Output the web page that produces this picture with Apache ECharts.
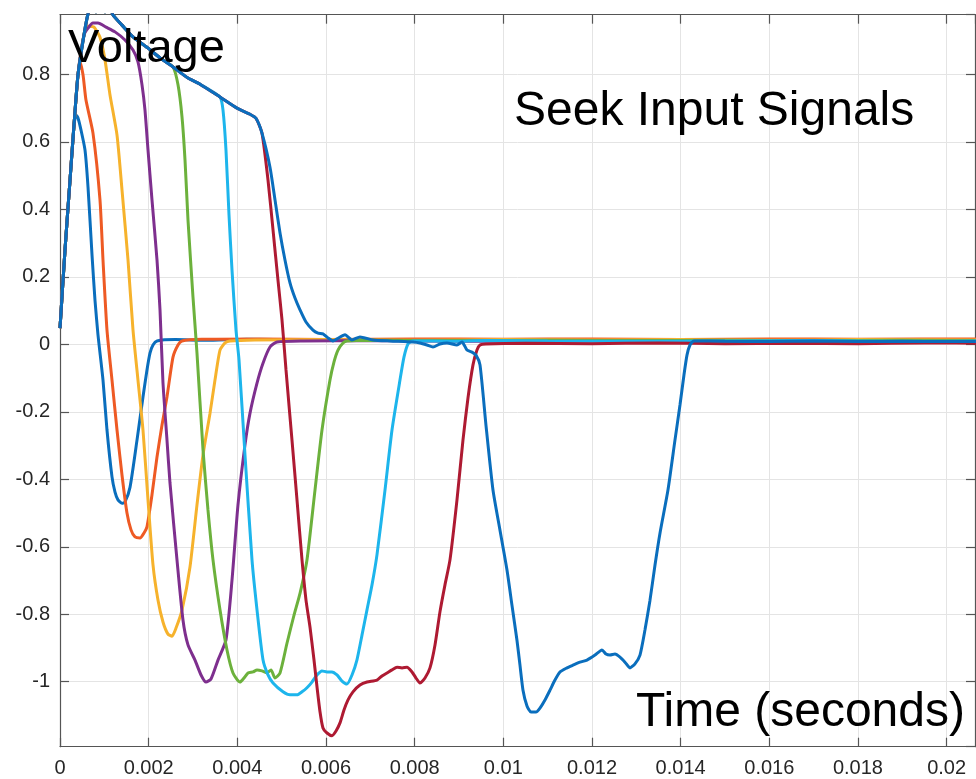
<!DOCTYPE html>
<html>
<head>
<meta charset="utf-8">
<title>Seek Input Signals</title>
<script src="https://cdn.jsdelivr.net/npm/echarts@6/dist/echarts.min.js"></script>
<style>
  html, body { margin: 0; padding: 0; background: #ffffff; }
  #chart { width: 976px; height: 779px; }
</style>
</head>
<body>
<div id="chart"></div>
<script>
// Times are in milliseconds, voltages in volts.

// Common rising edge shared by every seek pulse
const riseMs = [0, 0.113, 0.226, 0.316, 0.406, 0.541, 0.632];
const riseV  = [0.048, 0.280, 0.487, 0.650, 0.799, 0.917, 0.979];

// Saturated plateau shared by the longer seeks (split where each one breaks away)
const plateauAMs = [0.722, 0.812, 0.902, 1.015, 1.105, 1.196, 1.399, 1.647, 1.985, 2.256, 2.549];
const plateauAV  = [1.003, 0.985, 1.009, 0.985, 1.006, 0.976, 0.946, 0.911, 0.878, 0.849, 0.822];
const plateauBMs = [2.887, 3.158, 3.609];
const plateauBV  = [0.789, 0.771, 0.733];
const plateauCMs = [3.993, 4.286, 4.421, 4.556];
const plateauCV  = [0.700, 0.682, 0.670, 0.626];

// Seek 1
const seek1Ms = [0.361, 0.406, 0.474, 0.564, 0.632, 0.722, 0.789, 0.857, 0.970, 1.060, 1.173, 1.241, 1.308, 1.399, 1.466, 1.579, 1.737, 1.872, 1.962, 2.030, 2.098, 2.188,
                 2.6, 3.3, 4.2, 5.5, 7, 9, 11, 13, 15, 17, 19, 21];
const seek1V  = [0.680, 0.671, 0.635, 0.576, 0.466, 0.265, 0.131, 0.028, -0.106, -0.254, -0.393, -0.438, -0.461, -0.471, -0.467, -0.424, -0.284, -0.156, -0.076, -0.026, -0.002, 0.010,
                 0.014, 0.012, 0.015, 0.013, 0.014, 0.012, 0.014, 0.013, 0.014, 0.012, 0.014, 0.013];

// Seek 2
const seek2Ms = [0.451, 0.519, 0.586, 0.744, 0.902, 0.970, 1.060, 1.173, 1.286, 1.399, 1.511, 1.602, 1.692, 1.805, 1.895, 1.962, 2.075, 2.188, 2.301, 2.413, 2.549, 2.662, 2.752,
                 3.2, 4.5, 6, 8, 10, 12, 14, 16, 18, 21];
const seek2V  = [0.837, 0.799, 0.724, 0.626, 0.428, 0.250, 0.042, -0.106, -0.254, -0.388, -0.500, -0.550, -0.571, -0.574, -0.559, -0.541, -0.446, -0.334, -0.239, -0.156, -0.038, -0.002, 0.010,
                 0.015, 0.016, 0.014, 0.016, 0.015, 0.016, 0.014, 0.016, 0.015, 0.016];

// Seek 3
const seek3Ms = [0.632, 0.767, 0.902, 1.015, 1.128, 1.286, 1.399, 1.534, 1.647, 1.759, 1.872, 1.985, 2.098, 2.210, 2.323, 2.436, 2.526, 2.617, 2.752, 2.932, 3.090, 3.226, 3.384, 3.496, 3.609, 3.722, 3.835,
                 4.4, 6, 8, 10, 12, 14, 16, 18, 21];
const seek3V  = [0.943, 0.940, 0.910, 0.843, 0.739, 0.620, 0.457, 0.250, 0.042, -0.106, -0.254, -0.461, -0.654, -0.758, -0.823, -0.859, -0.865, -0.841, -0.788, -0.660, -0.476, -0.328, -0.204, -0.106, -0.017, 0.004, 0.010,
                 0.013, 0.014, 0.012, 0.014, 0.013, 0.014, 0.012, 0.014, 0.013];

// Seek 4
const seek4Ms = [0.632, 0.744, 0.857, 1.038, 1.241, 1.466, 1.647, 1.759, 1.850, 1.917, 1.985, 2.075, 2.188, 2.256, 2.323, 2.413, 2.481, 2.639, 2.774, 2.887, 3.045, 3.181, 3.293, 3.406, 3.564, 3.744, 3.880, 4.015, 4.173, 4.286, 4.444, 4.579, 4.737, 4.895,
                 5.5, 7, 9, 11, 13, 15, 17, 19, 21];
const seek4V  = [0.937, 0.952, 0.952, 0.940, 0.926, 0.902, 0.872, 0.837, 0.769, 0.694, 0.576, 0.428, 0.250, 0.102, -0.114, -0.283, -0.411, -0.639, -0.817, -0.891, -0.936, -0.980, -1.001, -0.992, -0.936, -0.876, -0.699, -0.476, -0.298, -0.204, -0.115, -0.056, -0.008, 0.007,
                 0.010, 0.011, 0.009, 0.010, 0.011, 0.009, 0.010, 0.011, 0.010];

// Seek 5
const seek5Ms = [2.662, 2.752, 2.820, 2.887, 3.000, 3.090, 3.226, 3.338, 3.451, 3.609, 3.767, 3.902, 4.060, 4.150, 4.241, 4.353, 4.444, 4.556, 4.669, 4.760, 4.850, 4.963, 5.120, 5.278, 5.414, 5.571, 5.752, 5.910, 6.090, 6.181, 6.271, 6.384, 6.474,
                 7, 9, 11, 13, 15, 17, 19, 21];
const seek5V  = [0.769, 0.674, 0.546, 0.369, 0.140, -0.026, -0.313, -0.491, -0.639, -0.787, -0.906, -0.974, -1.001, -0.989, -0.974, -0.971, -0.965, -0.968, -0.974, -0.965, -0.989, -0.974, -0.886, -0.803, -0.738, -0.639, -0.432, -0.254, -0.106, -0.052, -0.017, 0.004, 0.010,
                 0.012, 0.011, 0.012, 0.011, 0.012, 0.011, 0.012, 0.011];

// Seek 6
const seek6Ms = [3.677, 3.744, 3.812, 3.880, 3.970, 4.038, 4.173, 4.331, 4.444, 4.579, 4.692, 4.805, 5.030, 5.188, 5.346, 5.459, 5.571, 5.684, 5.797, 5.910, 6.023, 6.135, 6.248, 6.361, 6.474, 6.587, 6.699, 6.812, 6.925, 7.038, 7.150, 7.331, 7.489, 7.669, 7.759, 7.850, 7.963,
                 8.8, 9.6, 11, 13, 15, 17, 19, 21];
const seek6V  = [0.694, 0.576, 0.384, 0.220, 0.042, -0.046, -0.328, -0.639, -0.787, -0.935, -0.980, -1.004, -1.030, -1.039, -1.039, -1.030, -1.018, -1.001, -0.980, -0.968, -0.971, -0.971, -0.980, -0.998, -1.007, -0.980, -0.935, -0.862, -0.787, -0.713, -0.624, -0.432, -0.254, -0.106, -0.038, 0.001, 0.010,
                 0.009, 0.011, 0.010, 0.009, 0.010, 0.011, 0.009, 0.010];

// Seek 7
const seek7Ms = [4.692, 4.805, 4.917, 5.008, 5.098, 5.233, 5.346, 5.459, 5.549, 5.639, 5.729, 5.797, 5.865, 5.932, 6.023, 6.135, 6.226, 6.316, 6.406, 6.497, 6.609, 6.767, 6.925, 7.150, 7.263, 7.376, 7.489, 7.602, 7.715, 7.827, 7.940, 8.030, 8.120, 8.233, 8.346, 8.459, 8.571, 8.684, 8.797, 8.955, 9.090, 9.203, 9.316, 9.406, 9.474, 9.609,
                 10.5, 12, 13.5, 15, 16.5, 18, 19.5, 21];
const seek7V  = [0.487, 0.339, 0.190, 0.072, -0.076, -0.284, -0.461, -0.639, -0.758, -0.838, -0.935, -1.015, -1.089, -1.137, -1.152, -1.160, -1.146, -1.122, -1.084, -1.054, -1.030, -1.010, -1.001, -0.995, -0.983, -0.974, -0.965, -0.957, -0.959, -0.957, -0.971, -0.989, -1.004, -0.989, -0.959, -0.891, -0.793, -0.713, -0.639, -0.461, -0.284, -0.159, -0.061, -0.017, -0.002, 0.001,
                 0.003, 0.002, 0.004, 0.002, 0.003, 0.002, 0.004, 0.003];

// Seek 8
const seek8Ms = [4.737, 4.850, 4.963, 5.075, 5.188, 5.301, 5.414, 5.549, 5.707, 5.820, 5.932, 6.045, 6.158, 6.248, 6.429, 6.586, 6.767, 7.060, 7.444, 7.962, 8.120, 8.278, 8.414, 8.571, 8.729, 8.955, 9.068, 9.180, 9.293, 9.384, 9.474,
                 9.609, 9.767, 9.925, 10.083, 10.195, 10.308, 10.376, 10.444, 10.534, 10.624, 10.737, 10.827, 10.940, 11.053, 11.165, 11.278, 11.436, 11.571, 11.729, 11.887, 12.068, 12.226, 12.316, 12.406, 12.519, 12.632, 12.744, 12.857, 12.970, 13.083,
                 13.195, 13.308, 13.421, 13.534, 13.714, 13.872, 13.985, 14.075, 14.143, 14.211, 14.301,
                 15, 16, 17, 18, 19, 20, 21];
const seek8V  = [0.525, 0.428, 0.330, 0.250, 0.182, 0.137, 0.102, 0.066, 0.042, 0.033, 0.031, 0.019, 0.010, 0.016, 0.028, 0.013, 0.022, 0.013, 0.010, 0.007, 0.004, -0.002, -0.008, 0.001, 0.004, -0.002, 0.007, -0.017, -0.023, -0.032, -0.061,
                 -0.240, -0.432, -0.551, -0.669, -0.773, -0.877, -0.951, -1.025, -1.072, -1.090, -1.090, -1.078, -1.054, -1.025, -0.995, -0.971, -0.959, -0.951, -0.942, -0.936, -0.921, -0.906, -0.918, -0.921, -0.918, -0.927, -0.942, -0.959, -0.947, -0.921,
                 -0.847, -0.759, -0.655, -0.560, -0.432, -0.284, -0.180, -0.091, -0.032, -0.002, 0.010,
                 0.009, 0.008, 0.010, 0.008, 0.009, 0.008, 0.009];

// Axis ranges and tick spacing
const xRange = [0, 0.02064];
const yRange = [-1.1926, 0.9769];
const xStep = 0.002;
const yStep = 0.2;

const lineColors = ['#0A6EBD', '#EE5A24', '#F6B22C', '#7E2F8E', '#6CB13C', '#1DB5EC', '#AE1A32', '#0A6EBD'];

// Join the shared segments with each seek's own trace
function track(parts) {
  const out = [];
  parts.forEach(([ms, v, n]) => {
    const count = n == null ? ms.length : n;
    for (let i = 0; i < count; i++) out.push([ms[i] / 1000, v[i]]);
  });
  return out;
}

const traces = [
  track([[riseMs, riseV, 4], [seek1Ms, seek1V]]),
  track([[riseMs, riseV, 5], [seek2Ms, seek2V]]),
  track([[riseMs, riseV, 6], [seek3Ms, seek3V]]),
  track([[riseMs, riseV, 6], [seek4Ms, seek4V]]),
  track([[riseMs, riseV], [plateauAMs, plateauAV], [seek5Ms, seek5V]]),
  track([[riseMs, riseV], [plateauAMs, plateauAV], [plateauBMs, plateauBV], [seek6Ms, seek6V]]),
  track([[riseMs, riseV], [plateauAMs, plateauAV], [plateauBMs, plateauBV], [plateauCMs, plateauCV], [seek7Ms, seek7V]]),
  track([[riseMs, riseV], [plateauAMs, plateauAV], [plateauBMs, plateauBV], [plateauCMs, plateauCV], [seek8Ms, seek8V]])
];

const FONT = '"Liberation Sans", Helvetica, Arial, sans-serif';
const axisColor = '#555555';
const labelColor = '#262626';
const gridColor = '#e4e4e4';

const boxLine = { show: true, onZero: false, lineStyle: { color: axisColor, width: 1.2 } };
const boxTick = { show: true, inside: true, length: 9, lineStyle: { color: axisColor, width: 1.2 } };

const chart = echarts.init(document.getElementById('chart'), null, { renderer: 'canvas' });

const option = {
  animation: false,
  backgroundColor: '#ffffff',
  grid: { left: 60, right: 1, top: 14.7, bottom: 32.3, containLabel: false, outerBoundsMode: 'none' },
  xAxis: [
    {
      type: 'value', position: 'bottom',
      min: xRange[0], max: xRange[1], interval: xStep,
      axisLine: boxLine,
      axisTick: boxTick,
      axisLabel: { show: true, color: labelColor, fontSize: 20, fontFamily: FONT, margin: 12, showMaxLabel: false },
      splitLine: { show: true, lineStyle: { color: gridColor, width: 1 } }
    },
    {
      type: 'value', position: 'top',
      min: xRange[0], max: xRange[1], interval: xStep,
      axisLine: boxLine,
      axisTick: boxTick,
      axisLabel: { show: false },
      splitLine: { show: false }
    }
  ],
  yAxis: [
    {
      type: 'value', position: 'left',
      min: yRange[0], max: yRange[1], splitNumber: 11, minInterval: yStep, maxInterval: yStep,
      axisLine: boxLine,
      axisTick: boxTick,
      axisLabel: { show: true, color: labelColor, fontSize: 20, fontFamily: FONT, margin: 10, showMinLabel: false, showMaxLabel: false },
      splitLine: { show: true, lineStyle: { color: gridColor, width: 1 } }
    },
    {
      type: 'value', position: 'right',
      min: yRange[0], max: yRange[1], splitNumber: 11, minInterval: yStep, maxInterval: yStep,
      axisLine: boxLine,
      axisTick: boxTick,
      axisLabel: { show: false },
      splitLine: { show: false }
    }
  ],
  series: traces.map((data, i) => ({
    type: 'line',
    xAxisIndex: 0,
    yAxisIndex: 0,
    data: data,
    showSymbol: false,
    symbol: 'none',
    smooth: 0.2,
    clip: true,
    z: 2 + i,
    lineStyle: { color: lineColors[i], width: 3 },
    itemStyle: { color: lineColors[i] },
    emphasis: { disabled: true }
  })),
  graphic: [
    { type: 'text', left: 68, top: 25.3, z: 100,
      style: { text: 'Voltage', font: '47px ' + FONT, fill: '#000000' } },
    { type: 'text', left: 514, top: 87.5, z: 100,
      style: { text: 'Seek Input Signals', font: '48px ' + FONT, fill: '#000000' } },
    { type: 'text', left: 636, top: 688.5, z: 100,
      style: { text: 'Time (seconds)', font: '48px ' + FONT, fill: '#000000' } }
  ]
};

chart.setOption(option);
</script>
</body>
</html>
